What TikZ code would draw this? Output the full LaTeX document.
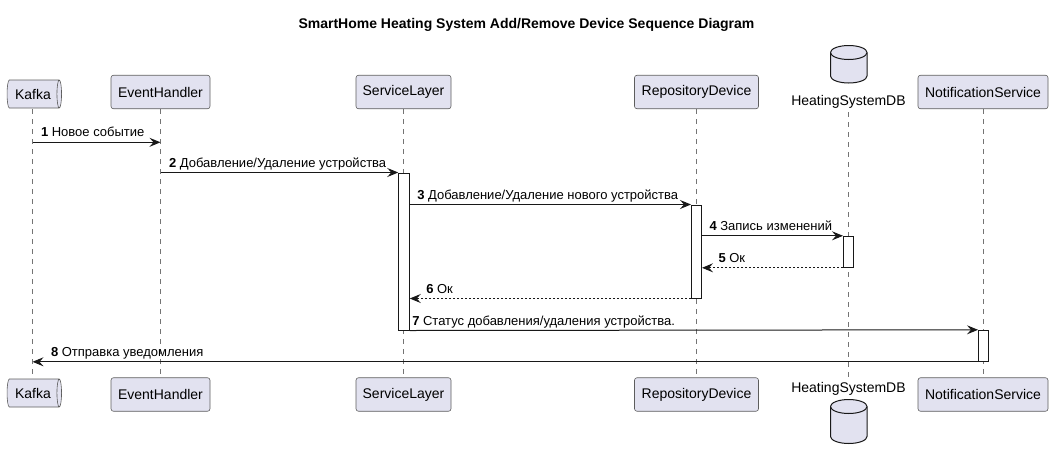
\documentclass[tikz,border=0pt]{standalone}
\usepackage{fontspec}
\setmainfont{Liberation Sans}
\usetikzlibrary{shapes.geometric,arrows.meta}
\definecolor{partfill}{HTML}{E2E2F0}
\definecolor{partline}{HTML}{181818}

\begin{document}
\begin{tikzpicture}[x=1pt, y=-1pt,
	every node/.style={inner sep=0pt},
	part/.style={rectangle, rounded corners=2.5pt, draw=partline!70, fill=partfill, line width=0.6pt, minimum height=33.5pt, font=\fontsize{14}{16}\selectfont},
	queue/.style={cylinder, draw=partline!70, fill=partfill, line width=0.6pt, minimum width=28pt, minimum height=54.5pt, aspect=0.45, font=\fontsize{14}{16}\selectfont},
	db/.style={draw=partline, fill=partfill, line width=1pt},
	dbname/.style={font=\fontsize{14}{16}\selectfont},
	life/.style={draw=partline!60, line width=0.5pt, dash pattern=on 5pt off 5pt},
	act/.style={draw=partline, fill=white, line width=1pt},
	msg/.style={draw=partline, line width=1pt, -{Stealth[length=11pt, width=9pt, inset=4pt]}},
	ret/.style={msg, dash pattern=on 2pt off 2pt},
	lbl/.style={font=\fontsize{13}{15}\selectfont, anchor=base west}]
	\useasboundingbox (0,0) rectangle (1053,459);

	\node[font=\bfseries\fontsize{14}{16}\selectfont] (title) at (526.5,25) {SmartHome Heating System Add/Remove Device Sequence Diagram};

	\coordinate (kafka) at (32.5,0);
	\coordinate (evh) at (160.5,0);
	\coordinate (svc) at (403.5,0);
	\coordinate (rep) at (696.5,0);
	\coordinate (db) at (848.5,0);
	\coordinate (notif) at (983,0);

	\path (kafka |- 0,109) edge[life] (kafka |- 0,378);
	\path (evh |- 0,109) edge[life] (evh |- 0,378);
	\path (svc |- 0,109) edge[life] (svc |- 0,378);
	\path (rep |- 0,109) edge[life] (rep |- 0,378);
	\path (db |- 0,112) edge[life] (db |- 0,378);
	\path (notif |- 0,109) edge[life] (notif |- 0,378);

	\node[queue] (kafkaT) at (33,94) {Kafka};
	\node[part, minimum width=99pt] (evhT) at (160.5,92) {EventHandler};
	\node[part, minimum width=95pt] (svcT) at (403.5,92) {ServiceLayer};
	\node[part, minimum width=124pt] (repT) at (696.5,92) {RepositoryDevice};
	\draw[db] (830.5,52.5) -- (830.5,76) arc[start angle=180, end angle=0, x radius=18.25, y radius=7] -- (867,52.5) arc[start angle=0, end angle=-180, x radius=18.25, y radius=7] -- cycle;
	\draw[db] (830.5,52.5) arc[start angle=180, end angle=0, x radius=18.25, y radius=7];
	\node[dbname] (dbT) at (848.5,101.5) {HeatingSystemDB};
	\node[part, minimum width=130pt] (notifT) at (983,92) {NotificationService};

	\node[queue] (kafkaB) at (33,393) {Kafka};
	\node[part, minimum width=99pt] (evhB) at (160.5,394.5) {EventHandler};
	\node[part, minimum width=95pt] (svcB) at (403.5,394.5) {ServiceLayer};
	\node[part, minimum width=124pt] (repB) at (696.5,394.5) {RepositoryDevice};
	\node[dbname] (dbB) at (848.5,389) {HeatingSystemDB};
	\draw[db] (830.5,406.5) -- (830.5,436.5) arc[start angle=180, end angle=0, x radius=18.25, y radius=7] -- (867,406.5) arc[start angle=0, end angle=-180, x radius=18.25, y radius=7] -- cycle;
	\draw[db] (830.5,406.5) arc[start angle=180, end angle=0, x radius=18.25, y radius=7];
	\node[part, minimum width=130pt] (notifB) at (983,394.5) {NotificationService};

	\node[act, minimum width=10.5pt, minimum height=157pt] (actS) at (404,251.5) {};
	\node[act, minimum width=10pt, minimum height=93pt] (actR) at (696.5,251.5) {};
	\node[act, minimum width=10pt, minimum height=31pt] (actD) at (848.5,251.8) {};
	\node[act, minimum width=10pt, minimum height=31pt] (actN) at (983.5,345.8) {};

	\path (kafka |- 0,142.3) edge[msg] node[lbl, at start, xshift=8pt, yshift=5.5pt] {\textbf{1} Новое событие} (evh |- 0,142.3);
	\path (evh |- actS.north) edge[msg] node[lbl, at start, xshift=8pt, yshift=5.5pt] {\textbf{2} Добавление/Удаление устройства} (actS.north west);
	\path (actS.east |- actR.north) edge[msg] node[lbl, at start, xshift=7pt, yshift=5.5pt] {\textbf{3} Добавление/Удаление нового устройства} (actR.north west);
	\path (actR.east |- actD.north) edge[msg] node[lbl, at start, xshift=7pt, yshift=5.5pt] {\textbf{4} Запись изменений} (actD.north west);
	\path (actD.south west) edge[ret] node[lbl, at end, xshift=16pt, yshift=5.5pt] {\textbf{5} Ок} (actR.east |- actD.south);
	\path (actR.south west) edge[ret] node[lbl, at end, xshift=16pt, yshift=5.5pt] {\textbf{6} Ок} (actS.east |- actR.south);
	\path (actS.south east) edge[msg] node[lbl, at start, xshift=2pt, yshift=5.5pt] {\textbf{7} Статус добавления/удаления устройства.} (actN.north west);
	\path (actN.south west) edge[msg] node[lbl, at end, xshift=18pt, yshift=5.5pt] {\textbf{8} Отправка уведомления} (kafka |- actN.south);
\end{tikzpicture}
\end{document}
